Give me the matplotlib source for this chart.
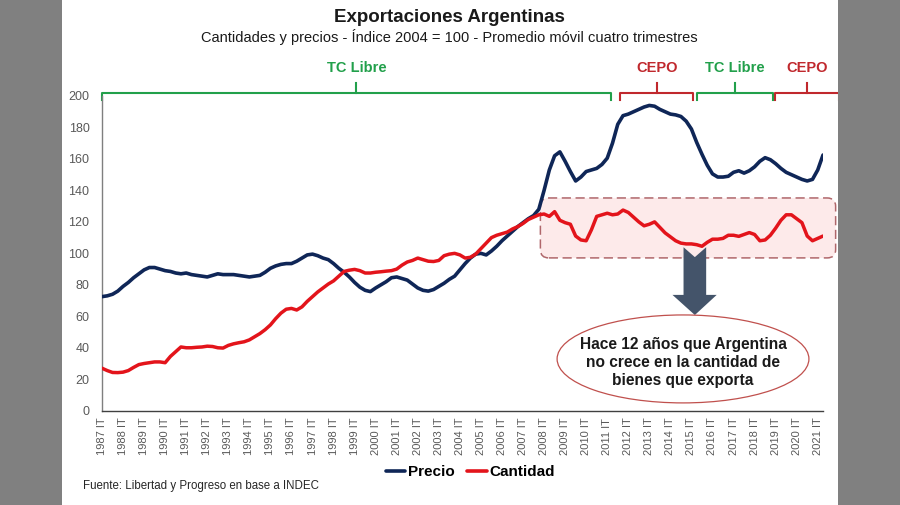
import numpy as np
import matplotlib.pyplot as plt
from matplotlib.patches import FancyBboxPatch, Ellipse, Polygon, Rectangle

plt.rcParams['font.family'] = ['Liberation Sans', 'DejaVu Sans']

# quarterly index, 1987 IT .. 2021 IIT (moving average of four quarters)
years = list(range(1987, 2022))

precio = [
    72.5, 73, 74, 76, 79, 81.5, 84.5, 87, 89.5, 91, 91, 90,
    89, 88.5, 87.5, 87, 87.5, 86.5, 86, 85.5, 85, 86, 87, 86.5,
    86.5, 86.5, 86, 85.5, 85, 85.5, 86, 88, 90.5, 92, 93, 93.5,
    93.5, 95, 97, 99, 99.5, 98.5, 97, 96, 93.5, 90.5, 88, 85,
    81.5, 78.5, 76.5, 75.7, 78, 80, 82, 84.5, 85, 84, 83, 80.5,
    78, 76.5, 76, 77, 79, 81, 83.5, 85.5, 89.5, 93.5, 97, 99.5,
    100, 99, 101.5, 104.5, 108, 111, 114, 117, 119.5, 122, 124, 128,
    140, 153, 162, 164.5, 158.5, 152, 146, 148.5, 152, 153, 154, 156.5,
    160.5, 170, 182, 187.5, 188.5, 190, 191.5, 193, 194, 193.5, 191.5, 190,
    188.5, 188, 187, 184, 179, 170.5, 163, 156, 150.5, 148.5, 148.5, 149,
    151.5, 152.5, 151, 152.5, 155, 158.5, 160.8, 159.5, 157, 154, 151.5, 150,
    148.5, 147, 146, 147, 153, 162.5,
]

cantidad = [
    27, 25.5, 24.3, 24.2, 24.5, 25.5, 27.5, 29.3, 30, 30.5, 31, 31,
    30.5, 34.5, 37.5, 40.5, 40, 40, 40.3, 40.5, 41, 40.8, 40, 39.8,
    41.5, 42.5, 43.2, 43.8, 45, 47, 49, 51.5, 54.5, 58.5, 62, 64.5,
    65, 64, 66, 69.5, 72.5, 75.5, 78, 80.5, 82.5, 85.5, 88.5, 89.3,
    89.8, 89, 87.5, 87.5, 88, 88.3, 88.7, 89, 90, 92.5, 94.5, 95.5,
    97, 96, 95, 94.8, 95.5, 98.5, 99.5, 100, 99, 97, 97.5, 99.5,
    103, 106.5, 110, 111.5, 112.5, 113.5, 115.5, 117, 119, 121.5, 123, 124.5,
    125, 123.5, 126.5, 121, 119.5, 118.5, 111, 108.5, 108, 115, 123.5, 124.5,
    125.5, 124.5, 125, 127.5, 126, 123, 120, 117.5, 118.5, 120, 116.5, 113,
    110.5, 108, 106.5, 106, 106, 105.5, 104.5, 107, 109, 109, 109.5, 111.5,
    111.5, 110.8, 112, 113.2, 112, 108, 108.5, 111.5, 116, 121, 124.5, 124.5,
    122, 119.5, 111, 108, 109.5, 111,
]

# periods over the chart: label, first quarter, last quarter
periodos = [
    ('TC Libre', 0, 96.7, '#22a04b'),
    ('CEPO', 98.5, 112.3, '#c0282d'),
    ('TC Libre', 113.1, 127.5, '#22a04b'),
    ('CEPO', 127.8, 140, '#c0282d'),
]

nota = 'Hace 12 años que Argentina\nno crece en la cantidad de\nbienes que exporta'

x = np.arange(len(precio))

fig = plt.figure(figsize=(9, 5.05), dpi=100)
ax = fig.add_axes([102 / 900, (505 - 410.7) / 505, 721 / 900, 314.7 / 505])

# pink dashed box behind the last part of Cantidad
box = FancyBboxPatch((83.3, 97.1), 56.1, 38.1,
                     boxstyle='round,pad=0,rounding_size=1.6',
                     mutation_aspect=3.3, facecolor='#fdeaea', edgecolor='#b0676b',
                     linestyle=(0, (6, 3)), linewidth=1.1, clip_on=False, zorder=1)
ax.add_patch(box)

ax.plot(x, precio, color='#0f2657', lw=2.6, label='Precio', zorder=3,
        solid_capstyle='round')
ax.plot(x, cantidad, color='#e3141b', lw=2.5, label='Cantidad', zorder=3,
        solid_capstyle='round')

# down arrow
arrow = Polygon([(110.5, 103.9), (112.65, 97.6), (114.8, 103.9), (114.8, 73.6),
                 (116.8, 73.6), (112.65, 60.8), (108.4, 73.6), (110.5, 73.6)],
                closed=True, facecolor='#44546a', edgecolor='none', zorder=4)
ax.add_patch(arrow)

ell = Ellipse((110.4, 32.9), 47.85, 55.9, facecolor='white', edgecolor='#c0504d',
              lw=0.9, zorder=4)
ax.add_patch(ell)
ax.text(110.4, 30.6, nota, ha='center', va='center', fontsize=11.2,
        fontweight='bold', color='#1a1a1a', linespacing=1.22, zorder=5)

# brackets
for label, a, b, col in periodos:
    mid = (a + b) / 2
    ax.plot([a, a, b, b], [197.5, 202, 202, 197.5], color=col, lw=1.5,
            clip_on=False, zorder=2)
    ax.plot([mid, mid], [202, 208.5], color=col, lw=1.5, clip_on=False, zorder=2)
    ax.text(mid, 217.5, label, ha='center', va='center', color=col,
            fontsize=10.5, fontweight='bold')

ax.set_xlim(0, len(precio) - 1)
ax.set_ylim(0, 200)
ax.set_yticks(range(0, 201, 20))
ax.set_xticks(x[::4])
ax.set_xticklabels([f'{y} IT' for y in years], rotation=90)
ax.tick_params(axis='x', length=0, pad=5, labelsize=8, labelcolor='#595959')
ax.tick_params(axis='y', length=0, pad=9, labelsize=9, labelcolor='#595959')
for s in ['top', 'right']:
    ax.spines[s].set_visible(False)
ax.spines['left'].set_color('#7f7f7f')
ax.spines['bottom'].set_color('#404040')
ax.spines['left'].set_linewidth(1.0)
ax.spines['bottom'].set_linewidth(1.0)

leg = fig.legend(loc='center', bbox_to_anchor=(470 / 900, 1 - 472 / 505), ncol=2,
                 frameon=False, handlelength=1.3, handletextpad=0.15,
                 columnspacing=0.8, prop={'weight': 'bold', 'size': 11})
for line in leg.get_lines():
    line.set_linewidth(2.6)

fig.text(449 / 900, 1 - 18 / 505, 'Exportaciones Argentinas', ha='center',
         va='center', fontsize=13.5, fontweight='bold', color='#1a1a1a')
fig.text(449 / 900, 1 - 37 / 505,
         'Cantidades y precios - Índice 2004 = 100 - Promedio móvil cuatro trimestres',
         ha='center', va='center', fontsize=10.5, color='#1a1a1a')
fig.text(83 / 900, 1 - 486 / 505, 'Fuente: Libertad y Progreso en base a INDEC',
         ha='left', va='center', fontsize=8.3, color='#262626')

# grey side margins of the screenshot
fig.patches.append(Rectangle((0, 0), 62 / 900, 1, transform=fig.transFigure,
                             facecolor='#808080', edgecolor='none', zorder=10))
fig.patches.append(Rectangle((838 / 900, 0), 62 / 900, 1, transform=fig.transFigure,
                             facecolor='#808080', edgecolor='none', zorder=10))

fig.savefig('out.png', dpi=100)
